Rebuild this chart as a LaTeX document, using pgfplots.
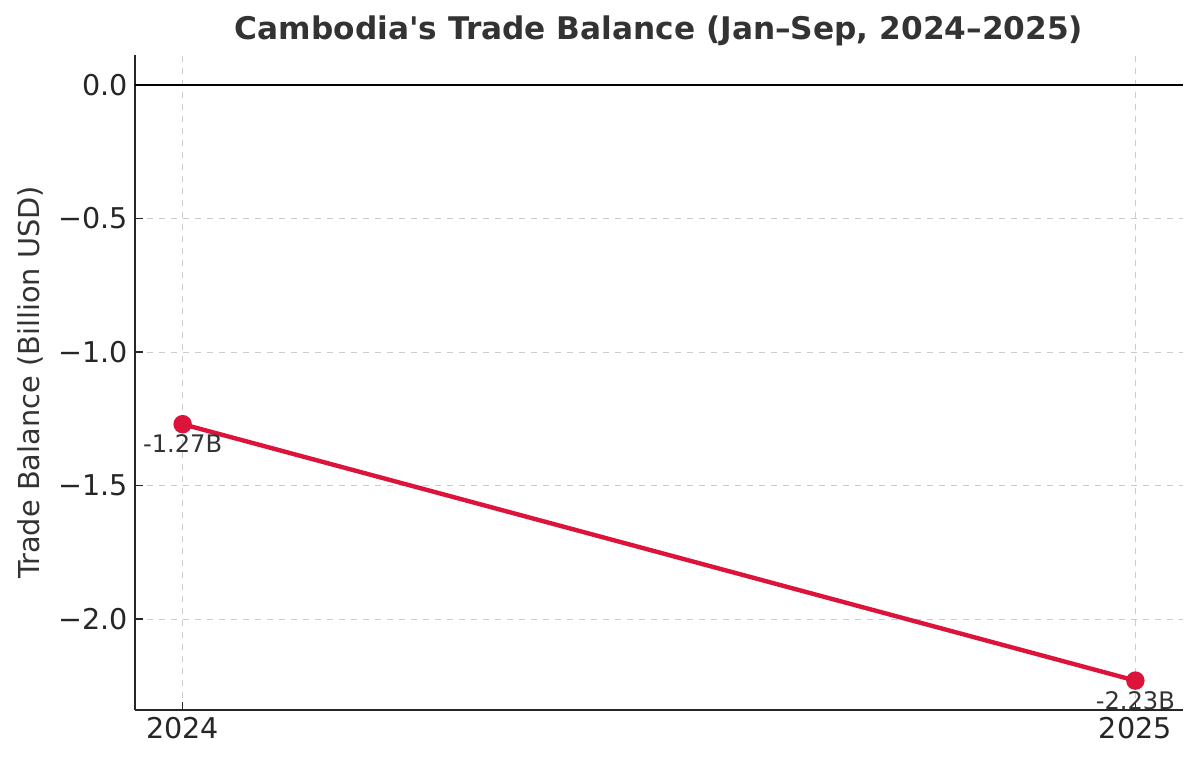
\documentclass[border=0pt]{standalone}
\usepackage{fontspec}
\setmainfont{DejaVu Sans}
\usepackage{pgfplots}
\pgfplotsset{compat=1.18}
\definecolor{linecol}{HTML}{DC143C}
\definecolor{txt}{HTML}{333333}
\definecolor{gridc}{HTML}{CCCCCC}
\begin{document}
\begin{tikzpicture}
\begin{axis}[
  name=ax,
  scale only axis,
  width=524pt, height=327.5pt,
  xmin=2023.95, xmax=2025.05,
  ymin=-2.34, ymax=0.112,
  axis x line*=bottom, axis y line*=left,
  axis line style={line width=1pt, color=black!85},
  xtick={2024,2025}, xticklabels={2024,2025},
  ytick={-2,-1.5,-1,-0.5,0},
  yticklabels={−2.0,−1.5,−1.0,−0.5,0.0},
  tick align=inside,
  major tick length=4pt,
  tick style={line width=0.8pt, color=black!85},
  ticklabel style={font=\fontsize{14.3}{17}\selectfont, text=black!85},
  grid=major,
  major grid style={dashed, gridc, line width=0.5pt},
  ylabel={Trade Balance (Billion USD)},
  ylabel style={font=\fontsize{14.4}{17}\selectfont, text=txt, yshift=0.5pt},
  title={\bfseries Cambodia\textquotesingle s Trade Balance (Jan–Sep, 2024–2025)},
  title style={font=\fontsize{15.6}{18}\selectfont, text=txt, yshift=-5pt},
  clip=false,
]
\draw[black, line width=0.8pt] (axis cs:2023.95,0) -- (axis cs:2025.05,0);
\addplot[color=linecol, line width=2.2pt, mark=*, mark size=3.5pt,
  nodes near coords, point meta=explicit symbolic,
  every node near coord/.style={anchor=north, yshift=-1pt, font=\fontsize{12.1}{14}\selectfont, text=txt}]
  table[meta=label] {
  x y label
  2024 -1.27 -1.27B
  2025 -2.23 -2.23B
};
\end{axis}
\pgfresetboundingbox
\useasboundingbox ([xshift=-67.5pt,yshift=-27.5pt]ax.south west) rectangle ([xshift=8.5pt,yshift=27.5pt]ax.north east);
\end{tikzpicture}
\end{document}
